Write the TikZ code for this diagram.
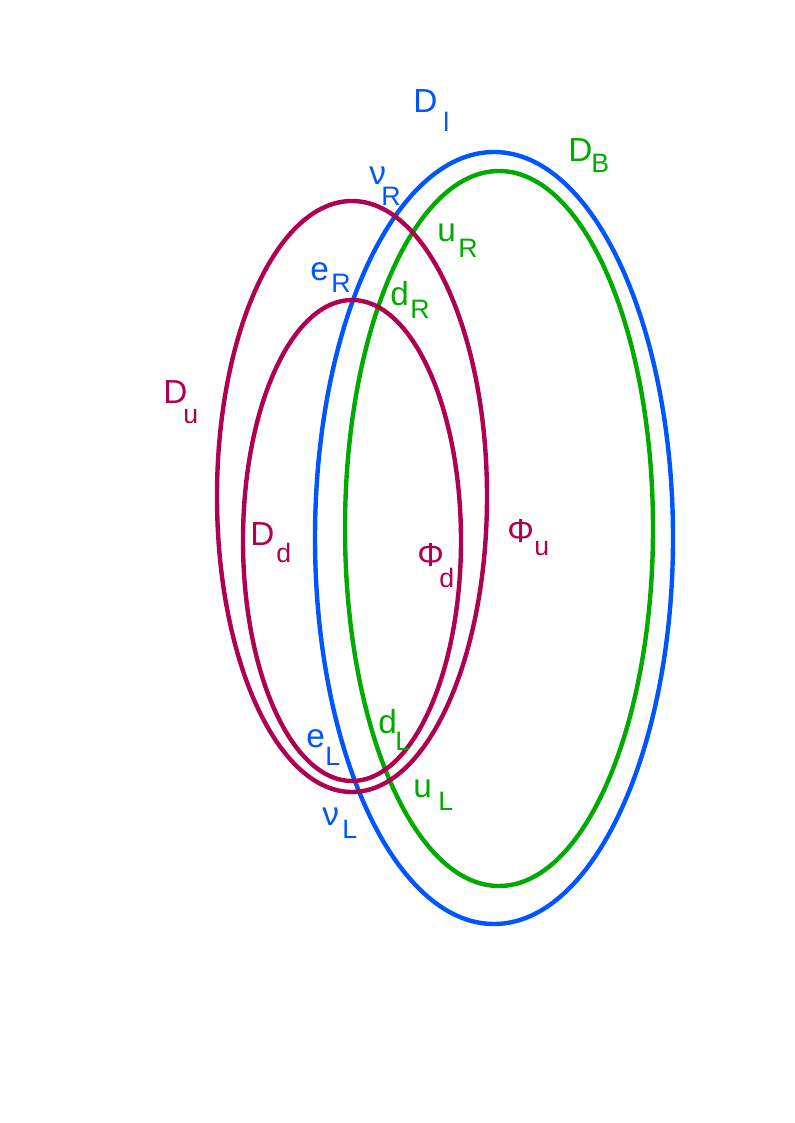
\documentclass[tikz,border=0pt]{standalone}
\usepackage{fontspec}
\setmainfont{Liberation Sans}
\usetikzlibrary{positioning}
\definecolor{leptonBlue}{RGB}{0, 85, 255}
\definecolor{quarkGreen}{RGB}{0, 170, 0}
\definecolor{singletCrimson}{RGB}{176, 0, 80}
\newlength\unitpx
\setlength\unitpx{0.75pt}
% main letter, then subscript shifted right by #1 px and down by #2 px
\newcommand{\lbl}[4]{\makebox[#1\unitpx][l]{#3}\raisebox{-#2\unitpx}{\fontsize{20}{24}\selectfont #4}}

\begin{document}
\begin{tikzpicture}[x=0.75pt, y=-0.75pt,
    ring/.style={line width=3.3pt},
    lab/.style={anchor=base west, inner sep=0pt, font=\fontsize{25}{30}\selectfont}]
\useasboundingbox (0,0) rectangle (794,1123);

\draw[ring, leptonBlue] (494,538) ellipse [x radius=179, y radius=386];
\draw[ring, quarkGreen] (499,528.5) ellipse [x radius=154, y radius=357.5];
\draw[ring, singletCrimson] (352,496.5) ellipse [x radius=135, y radius=295.5];
\draw[ring, singletCrimson] (352,540.5) ellipse [x radius=109, y radius=240.5];

\node[lab, leptonBlue] (Dl) at (413,113) {\lbl{30}{19}{D}{l}};
\node[lab, quarkGreen] (DB) at (568,162) {\lbl{23}{11}{D}{B}};
\node[lab, leptonBlue] (nuR) at (369,185) {\lbl{12}{21}{ν}{R}};
\node[lab, quarkGreen] (uR) at (437,242) {\lbl{21}{16}{u}{R}};
\node[lab, leptonBlue] (eR) at (310,280) {\lbl{21}{12}{e}{R}};
\node[lab, quarkGreen] (dR) at (390,305) {\lbl{20}{13}{d}{R}};
\node[lab, singletCrimson] (Du) at (163,403) {\lbl{20}{20}{D}{u}};
\node[lab, singletCrimson] (Dd) at (250,545) {\lbl{26}{17}{D}{d}};
\node[lab, singletCrimson] (Phid) at (417,566) {\lbl{22}{21}{Φ}{d}};
\node[lab, singletCrimson] (Phiu) at (507,542) {\lbl{27}{13}{Φ}{u}};
\node[lab, leptonBlue] (eL) at (306,747) {\lbl{19}{18}{e}{L}};
\node[lab, quarkGreen] (dL) at (378,733) {\lbl{17}{17}{d}{L}};
\node[lab, quarkGreen] (uL) at (413,797) {\lbl{25}{13}{u}{L}};
\node[lab, leptonBlue] (nuL) at (322,825) {\lbl{20}{13}{ν}{L}};
\end{tikzpicture}
\end{document}
